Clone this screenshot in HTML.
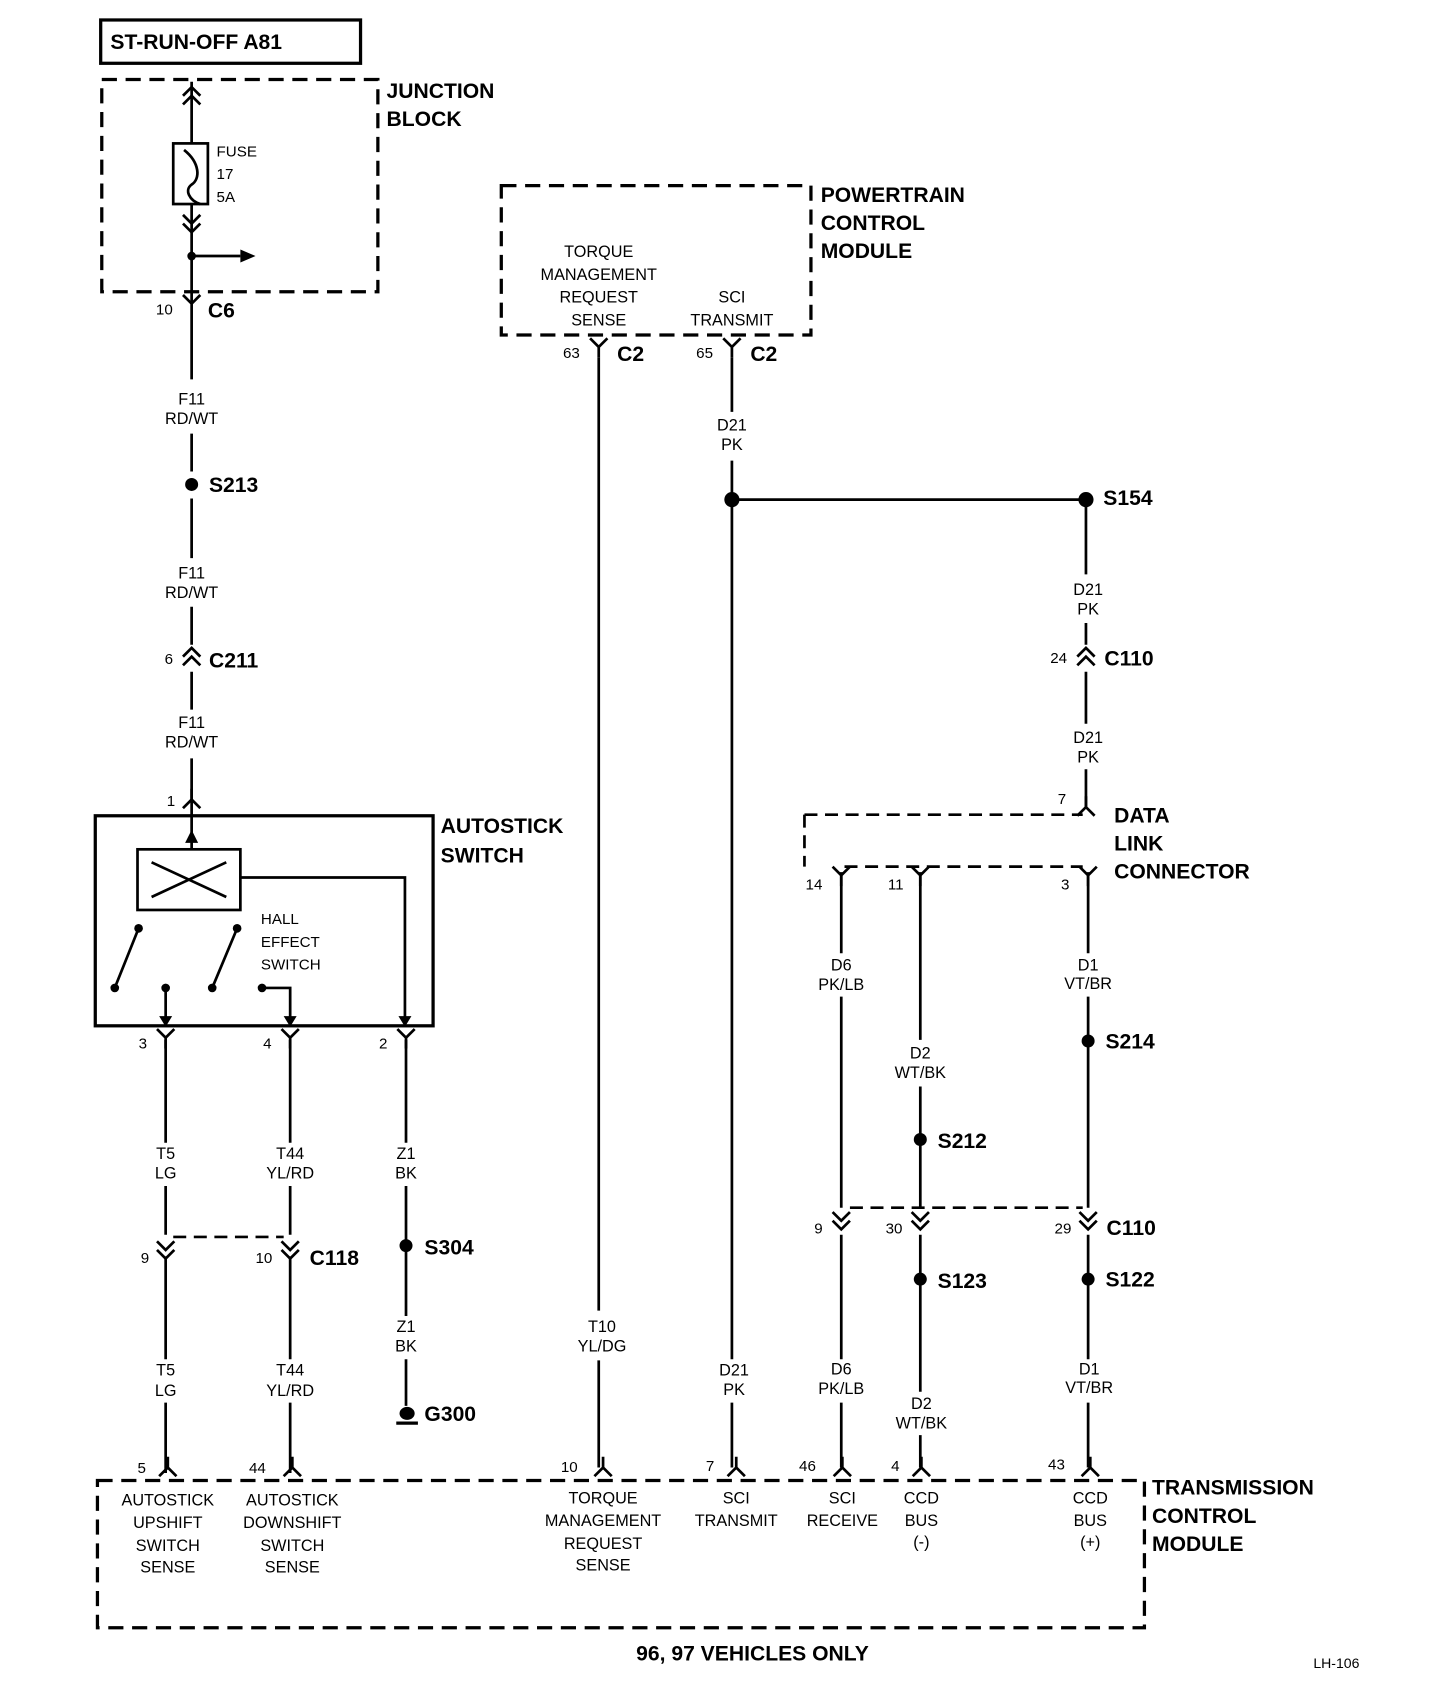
<!DOCTYPE html>
<html><head><meta charset="utf-8"><style>
html,body{margin:0;padding:0;background:#fff}
svg{display:block}
text{font-family:"Liberation Sans Narrow","Liberation Sans",sans-serif;fill:#000}
.b{font-weight:bold;font-size:19.5px;font-family:"Liberation Sans","DejaVu Sans",sans-serif}
.s{font-size:15px;text-anchor:middle}
.n{font-size:14px}
</style></head><body>
<svg width="1440" height="1690" viewBox="0 0 1330 1560" xmlns="http://www.w3.org/2000/svg">
<defs>
<g id="Y"><path d="M-8,-8 L0,0 L8,-8 M0,0 L0,10" fill="none" stroke="#000" stroke-width="2.5"/></g>
<g id="A"><path d="M-8,8 L0,0 L8,8 M0,0 L0,-10" fill="none" stroke="#000" stroke-width="2.5"/></g>
<g id="DD"><path d="M-8,-14 L0,-6 L8,-14 M-8,-6 L0,2 L8,-6" fill="none" stroke="#000" stroke-width="2.5"/></g>
<g id="DU"><path d="M-8,6 L0,-2 L8,6 M-8,14 L0,6 L8,14" fill="none" stroke="#000" stroke-width="2.5"/></g>
</defs>
<g fill="none" stroke="#000" stroke-width="2.5">
<rect x="93" y="18" width="240" height="40" stroke-width="3"/>
<rect x="94" y="73" width="255" height="196" stroke-dasharray="14,8" stroke-width="3"/>
<rect x="463" y="171" width="286" height="138" stroke-dasharray="14,8" stroke-width="3"/>
<rect x="90" y="1367" width="967" height="136" stroke-dasharray="14,8" stroke-width="3"/>
<rect x="88" y="753" width="312" height="194" stroke-width="3"/>
<rect x="127" y="784" width="95" height="56"/>
<path d="M140,796 L209,828 M140,828 L209,796"/>
<path d="M177,75 V132 M177,188 V280"/>
<rect x="160" y="132" width="32" height="56"/>
<path d="M170,138 C185,150 185,165 177,170 C170,175 175,185 185,188"/>
<path d="M177,236 H222"/>
<path d="M177,290 V350 M177,400 V435 M177,460 V515 M177,560 V595 M177,620 V655 M177,700 V784"/>
<path d="M222,810 H374 V947 M128,857 L106,912 M219,857 L196,912 M153,912 V947 M242,912 H268 V947"/>
<path d="M153,960 V1055 M153,1095 V1140 M153,1160 V1255 M153,1295 V1360"/>
<path d="M268,960 V1055 M268,1095 V1140 M268,1160 V1255 M268,1295 V1360"/>
<path d="M375,960 V1055 M375,1095 V1215 M375,1255 V1298"/>
<path d="M160,1142 H262" stroke-dasharray="12,7"/>
<path d="M553,330 V1210 M553,1256 V1355"/>
<path d="M676,330 V380 M676,425 V1255 M676,1295 V1355 M676,461 H1003"/>
<path d="M1003,461 V530 M1003,575 V595 M1003,620 V668 M1003,710 V745"/>
<path d="M743,752 H1000 M743,752 V800 M780,800 H1000" stroke-dasharray="12,7"/>
<path d="M777,805 V880 M777,920 V1115 M777,1140 V1255 M777,1295 V1355"/>
<path d="M850,805 V960 M850,1003 V1115 M850,1140 V1285 M850,1325 V1355"/>
<path d="M1005,805 V880 M1005,920 V1115 M1005,1140 V1255 M1005,1295 V1355"/>
<path d="M785,1115 H1000" stroke-dasharray="12,7"/>
<path d="M366,1314 H386" stroke-width="3"/>
</g>
<polygon points="222,230 236,236 222,242"/>
<polygon points="171,778 177,766 183,778"/>
<polygon points="368,938 374,948 380,938"/>
<polygon points="147,938 153,948 159,938"/>
<polygon points="262,938 268,948 274,938"/>
<g>
<circle cx="177" cy="236" r="4"/>
<circle cx="177" cy="447" r="6"/><circle cx="375" cy="1150" r="6"/>
<circle cx="676" cy="461" r="7"/><circle cx="1003" cy="461" r="7"/>
<circle cx="1005" cy="961" r="6"/><circle cx="850" cy="1052" r="6"/>
<circle cx="850" cy="1181" r="6"/><circle cx="1005" cy="1181" r="6"/>
<circle cx="128" cy="857" r="4"/><circle cx="219" cy="857" r="4"/>
<circle cx="106" cy="912" r="4"/><circle cx="153" cy="912" r="4"/>
<circle cx="196" cy="912" r="4"/><circle cx="242" cy="912" r="4"/>
<ellipse cx="376" cy="1305" rx="7" ry="6"/>
</g>
<use href="#DU" x="177" y="82"/><use href="#DD" x="177" y="212"/>
<use href="#Y" x="177" y="280"/><use href="#DU" x="177" y="600"/><use href="#A" x="177" y="738"/>
<use href="#Y" x="153" y="958"/><use href="#Y" x="268" y="958"/><use href="#Y" x="375" y="958"/>
<use href="#DD" x="153" y="1160"/><use href="#DD" x="268" y="1160"/>
<use href="#Y" x="553" y="320"/><use href="#Y" x="676" y="320"/>
<use href="#DU" x="1003" y="600"/><use href="#A" x="1003" y="745"/>
<use href="#Y" x="777" y="808"/><use href="#Y" x="850" y="808"/><use href="#Y" x="1005" y="808"/>
<use href="#DD" x="777" y="1133"/><use href="#DD" x="850" y="1133"/><use href="#DD" x="1005" y="1133"/>
<use href="#A" x="155" y="1355"/><use href="#A" x="270" y="1355"/><use href="#A" x="557" y="1355"/>
<use href="#A" x="680" y="1355"/><use href="#A" x="778" y="1355"/><use href="#A" x="851" y="1355"/><use href="#A" x="1007" y="1355"/>

<text class="b" x="102" y="45" font-size="18">ST-RUN-OFF A81</text>
<text class="b" x="357" y="90">JUNCTION</text><text class="b" x="357" y="116">BLOCK</text>
<text class="n" x="200" y="144">FUSE</text><text class="n" x="200" y="165">17</text><text class="n" x="200" y="186">5A</text>
<text class="n" x="144" y="290">10</text><text class="b" x="192" y="293">C6</text>
<text class="b" x="758" y="186">POWERTRAIN</text><text class="b" x="758" y="212">CONTROL</text><text class="b" x="758" y="238">MODULE</text>
<g class="s"><text x="553" y="237">TORQUE</text><text x="553" y="258">MANAGEMENT</text><text x="553" y="279">REQUEST</text><text x="553" y="300">SENSE</text>
<text x="676" y="279">SCI</text><text x="676" y="300">TRANSMIT</text></g>
<text class="n" x="520" y="330">63</text><text class="b" x="570" y="333">C2</text>
<text class="n" x="643" y="330">65</text><text class="b" x="693" y="333">C2</text>
<g class="s">
<text x="177" y="373">F11</text><text x="177" y="391">RD/WT</text>
<text x="177" y="534">F11</text><text x="177" y="552">RD/WT</text>
<text x="177" y="672">F11</text><text x="177" y="690">RD/WT</text>
<text x="676" y="397">D21</text><text x="676" y="415">PK</text>
<text x="1005" y="549">D21</text><text x="1005" y="567">PK</text>
<text x="1005" y="686">D21</text><text x="1005" y="704">PK</text>
<text x="777" y="896">D6</text><text x="777" y="914">PK/LB</text>
<text x="850" y="977">D2</text><text x="850" y="995">WT/BK</text>
<text x="1005" y="896">D1</text><text x="1005" y="913">VT/BR</text>
<text x="153" y="1070">T5</text><text x="153" y="1088">LG</text>
<text x="268" y="1070">T44</text><text x="268" y="1088">YL/RD</text>
<text x="375" y="1070">Z1</text><text x="375" y="1088">BK</text>
<text x="153" y="1270">T5</text><text x="153" y="1289">LG</text>
<text x="268" y="1270">T44</text><text x="268" y="1289">YL/RD</text>
<text x="375" y="1230">Z1</text><text x="375" y="1248">BK</text>
<text x="556" y="1230">T10</text><text x="556" y="1248">YL/DG</text>
<text x="678" y="1270">D21</text><text x="678" y="1288">PK</text>
<text x="777" y="1269">D6</text><text x="777" y="1287">PK/LB</text>
<text x="851" y="1301">D2</text><text x="851" y="1319">WT/BK</text>
<text x="1006" y="1269">D1</text><text x="1006" y="1286">VT/BR</text>
<text x="155" y="1390">AUTOSTICK</text><text x="155" y="1411">UPSHIFT</text><text x="155" y="1432">SWITCH</text><text x="155" y="1452">SENSE</text>
<text x="270" y="1390">AUTOSTICK</text><text x="270" y="1411">DOWNSHIFT</text><text x="270" y="1432">SWITCH</text><text x="270" y="1452">SENSE</text>
<text x="557" y="1388">TORQUE</text><text x="557" y="1409">MANAGEMENT</text><text x="557" y="1430">REQUEST</text><text x="557" y="1450">SENSE</text>
<text x="680" y="1388">SCI</text><text x="680" y="1409">TRANSMIT</text>
<text x="778" y="1388">SCI</text><text x="778" y="1409">RECEIVE</text>
<text x="851" y="1388">CCD</text><text x="851" y="1409">BUS</text><text x="851" y="1429">(-)</text>
<text x="1007" y="1388">CCD</text><text x="1007" y="1409">BUS</text><text x="1007" y="1429">(+)</text>
</g>
<text class="b" x="193" y="454">S213</text>
<text class="n" x="152" y="613">6</text><text class="b" x="193" y="616">C211</text>
<text class="n" x="154" y="744">1</text>
<text class="b" x="407" y="769">AUTOSTICK</text><text class="b" x="407" y="796">SWITCH</text>
<text class="n" x="241" y="853">HALL</text><text class="n" x="241" y="874">EFFECT</text><text class="n" x="241" y="895">SWITCH</text>
<text class="n" x="128" y="968">3</text><text class="n" x="243" y="968">4</text><text class="n" x="350" y="968">2</text>
<text class="n" x="130" y="1166">9</text><text class="n" x="236" y="1166">10</text><text class="b" x="286" y="1168">C118</text>
<text class="b" x="392" y="1158">S304</text><text class="b" x="392" y="1312">G300</text>
<text class="b" x="1019" y="466">S154</text>
<text class="n" x="970" y="612">24</text><text class="b" x="1020" y="614">C110</text>
<text class="n" x="977" y="742">7</text>
<text class="b" x="1029" y="759">DATA</text><text class="b" x="1029" y="785">LINK</text><text class="b" x="1029" y="811">CONNECTOR</text>
<text class="n" x="744" y="821">14</text><text class="n" x="820" y="821">11</text><text class="n" x="980" y="821">3</text>
<text class="b" x="1021" y="968">S214</text><text class="b" x="866" y="1060">S212</text>
<text class="n" x="752" y="1139">9</text><text class="n" x="818" y="1139">30</text><text class="n" x="974" y="1139">29</text><text class="b" x="1022" y="1140">C110</text>
<text class="b" x="866" y="1189">S123</text><text class="b" x="1021" y="1188">S122</text>
<text class="n" x="127" y="1360">5</text><text class="n" x="230" y="1360">44</text><text class="n" x="518" y="1359">10</text>
<text class="n" x="652" y="1358">7</text><text class="n" x="738" y="1358">46</text><text class="n" x="823" y="1358">4</text><text class="n" x="968" y="1357">43</text>
<text class="b" x="1064" y="1380">TRANSMISSION</text><text class="b" x="1064" y="1406">CONTROL</text><text class="b" x="1064" y="1432">MODULE</text>
<text class="b" x="695" y="1533" text-anchor="middle" font-size="21">96, 97 VEHICLES ONLY</text>
<text x="1213" y="1540" font-size="13">LH-106</text>
</svg>
</body></html>
